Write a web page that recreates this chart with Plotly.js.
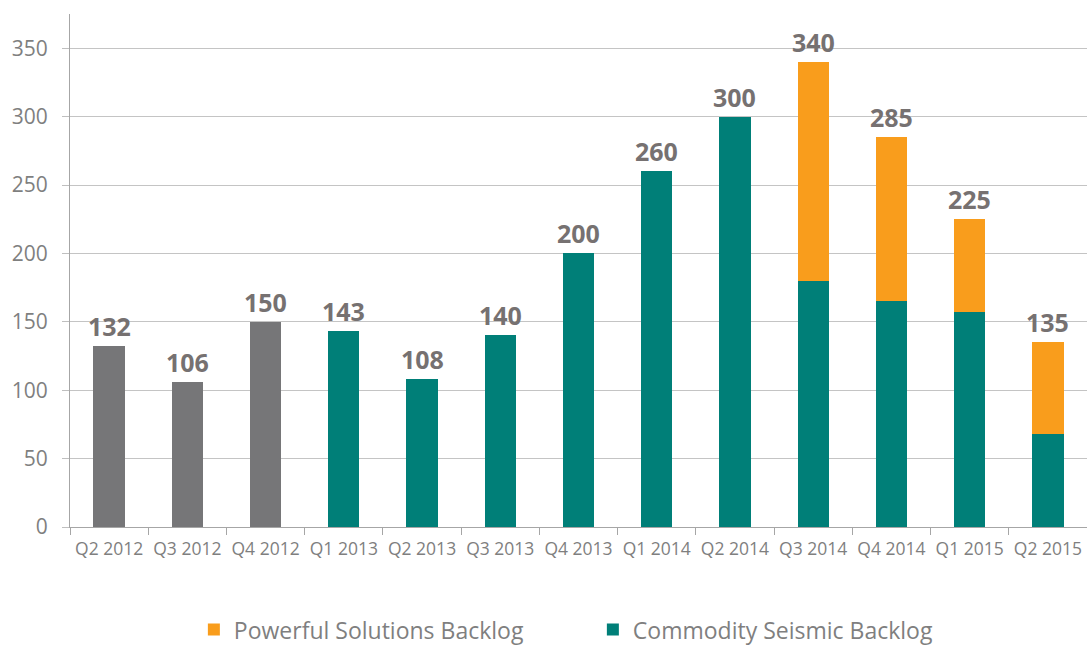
<!DOCTYPE html>
<html>
<head>
<meta charset="utf-8">
<script src="https://cdn.plot.ly/plotly-3.0.1.min.js"></script>
<style>html,body{margin:0;padding:0;background:#fff;}#chart{width:1087px;height:646px;}</style>
</head>
<body>
<div id="chart"></div>
<script>
var quarters = ["Q2 2012","Q3 2012","Q4 2012","Q1 2013","Q2 2013","Q3 2013","Q4 2013","Q1 2014","Q2 2014","Q3 2014","Q4 2014","Q1 2015","Q2 2015"];
var legacyBacklog = [132, 106, 150, null, null, null, null, null, null, null, null, null, null];
var commoditySeismic = [null, null, null, 143, 108, 140, 200, 260, 300, 180, 165, 157, 68];
var powerfulSolutions = [null, null, null, null, null, null, null, null, null, 160, 120, 68, 67];
var totalLabels = [132, 106, 150, 143, 108, 140, 200, 260, 300, 340, 285, 225, 135];
var yTicks = [0, 50, 100, 150, 200, 250, 300, 350];

var labelColor = "#7F7F7F";
var font = "Open Sans, Noto Sans, sans-serif";

var traces = [
  {type:"bar", name:"Legacy Backlog", x:quarters, y:legacyBacklog, marker:{color:"#767678"}, showlegend:false, hoverinfo:"x+y"},
  {type:"bar", name:"Commodity Seismic Backlog", x:quarters, y:commoditySeismic, marker:{color:"#007F78"}, legendrank:2},
  {type:"bar", name:"Powerful Solutions Backlog", x:quarters, y:powerfulSolutions, marker:{color:"#F99D1C"}, legendrank:1}
];

var annotations = quarters.map(function(q, i){
  return {x:q, y:totalLabels[i], xref:"x", yref:"y", text:String(totalLabels[i]), showarrow:false,
          yanchor:"bottom", yshift:1, font:{family:font, size:25, color:"#767171", weight:"bold"}};
});

var layout = {
  width:1087, height:646,
  margin:{l:70, r:0, t:14, b:119, autoexpand:false},
  paper_bgcolor:"#fff", plot_bgcolor:"#fff",
  barmode:"stack", bargap:0.6,
  font:{family:font, color:labelColor},
  xaxis:{type:"category", showline:true, linecolor:"#A6A6A6", linewidth:1, ticks:"outside", tickson:"boundaries",
         ticklen:7, tickcolor:"#A6A6A6", tickfont:{size:17.5, color:labelColor}, tickangle:0, ticklabelstandoff:6,
         showgrid:false, automargin:false},
  yaxis:{range:[0,375], tickvals:yTicks, showline:true, linecolor:"#A6A6A6", linewidth:1, ticks:"outside", ticklen:7,
         tickcolor:"#BFBFBF", tickfont:{size:21, color:labelColor}, showgrid:true, gridcolor:"#C4C4C4", gridwidth:1,
         zeroline:false, ticklabelstandoff:10, automargin:false},
  legend:{orientation:"h", x:0.1218, xanchor:"left", y:-0.2, yanchor:"middle", traceorder:"normal",
          font:{size:23, color:labelColor}, itemwidth:30, entrywidth:354},
  annotations:annotations
};

Plotly.newPlot("chart", traces, layout, {staticPlot:true});
</script>
</body>
</html>
